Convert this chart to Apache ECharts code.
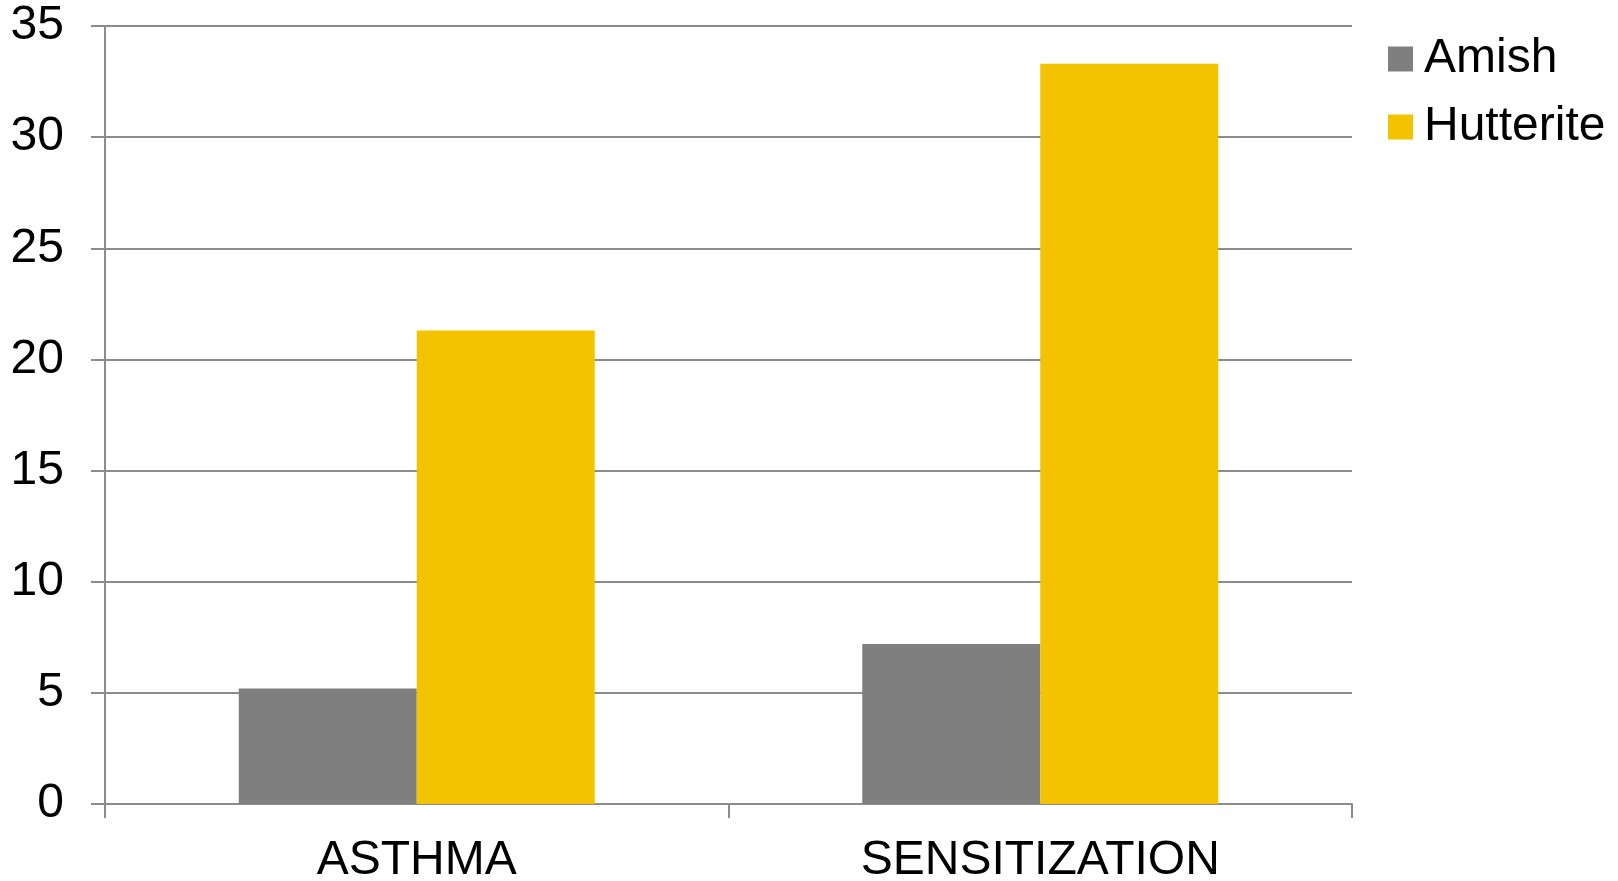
<!DOCTYPE html>
<html>
<head>
<meta charset="utf-8">
<script src="https://cdn.jsdelivr.net/npm/echarts@6/dist/echarts.min.js"></script>
<style>
  html, body { margin: 0; padding: 0; background: #ffffff; }
  #chart { width: 1618px; height: 881px; }
</style>
</head>
<body>
<div id="chart"></div>
<script>
// Prevalence (%) by group
const categories = ['ASTHMA', 'SENSITIZATION'];
const seriesNames = ['Amish', 'Hutterite'];
const amishValues = [5.2, 7.2];
const hutteriteValues = [21.3, 33.3];
const yTicks = { min: 0, max: 35, interval: 5 };

const FONT = '"Liberation Sans", Arial, sans-serif';
const axisGray = '#8c8c8c';

const chart = echarts.init(document.getElementById('chart'), null, { renderer: 'canvas' });

chart.setOption({
  backgroundColor: '#ffffff',
  animation: false,
  textStyle: { fontFamily: FONT },
  grid: {
    left: 105, right: 266, top: 26, bottom: 77,
    containLabel: false,
    outerBoundsMode: 'none'
  },
  legend: {
    orient: 'vertical',
    left: 1383,
    top: 30,
    icon: 'rect',
    itemWidth: 25,
    itemHeight: 25,
    itemGap: 20,
    textStyle: { fontFamily: FONT, fontSize: 48, color: '#000000', padding: [0, 0, 0, 6] },
    data: seriesNames
  },
  xAxis: {
    type: 'category',
    data: categories,
    axisLine: { lineStyle: { color: axisGray, width: 2 } },
    axisTick: { show: true, length: 14, lineStyle: { color: axisGray, width: 2 } },
    axisLabel: { fontFamily: FONT, fontSize: 48, color: '#000000', margin: 33 }
  },
  yAxis: {
    type: 'value',
    min: yTicks.min,
    max: yTicks.max,
    interval: yTicks.interval,
    axisLine: { show: true, lineStyle: { color: axisGray, width: 2 } },
    axisTick: { show: true, length: 14, lineStyle: { color: axisGray, width: 2 } },
    axisLabel: { fontFamily: FONT, fontSize: 48, color: '#000000', margin: 41 },
    splitLine: { show: true, lineStyle: { color: axisGray, width: 2 } }
  },
  series: [
    {
      name: seriesNames[0],
      type: 'bar',
      data: amishValues,
      barWidth: 178,
      barGap: '0%',
      itemStyle: { color: '#7f7f7f' }
    },
    {
      name: seriesNames[1],
      type: 'bar',
      data: hutteriteValues,
      barWidth: 178,
      barGap: '0%',
      itemStyle: { color: '#f4c300' }
    }
  ]
});
</script>
</body>
</html>
